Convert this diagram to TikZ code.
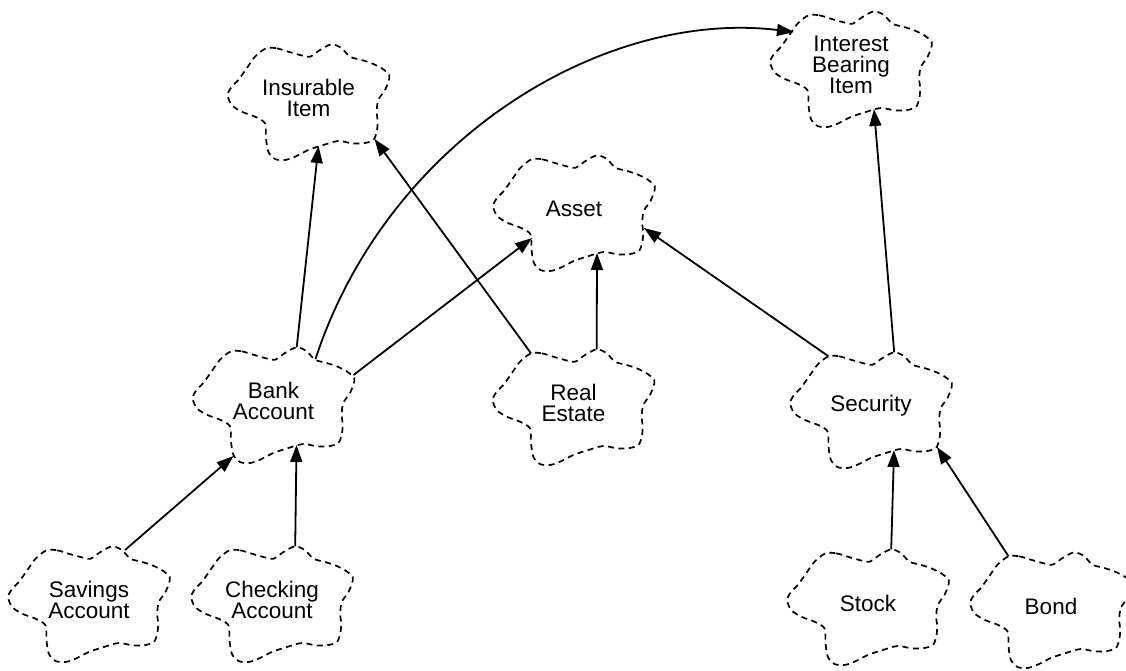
\documentclass[tikz,border=0pt]{standalone}
\usepackage{fontspec}
\setmainfont{Liberation Sans}
\usetikzlibrary{arrows.meta}
\tikzset{
  cloudline/.style={draw=black, line width=1.7pt, dash pattern=on 6pt off 4.5pt},
  cloudtext/.style={font=\fontsize{22.5}{21}\selectfont, align=center, inner sep=0pt},
  inherit/.style={draw=black, line width=1.8pt, -{Triangle[length=17pt,width=12pt]}},
  classcloud/.pic={
    \draw[cloudline] plot[smooth cycle, tension=0.5] coordinates {
      (-42.5,-52.7) (-31.8,-52.7) (-20.2,-49.3) (-8.5,-46) (1.5,-44.3)
      (11.5,-51) (23.2,-56.7) (33.2,-52.7) (41.5,-44.3) (53.2,-41)
      (63.2,-37.7) (73.2,-32.7) (80.8,-26) (79.8,-19.3) (76.5,-11)
      (69.8,-1) (68.2,10.7) (69.2,20.7) (68.2,30.7) (64.8,39)
      (54.8,42.3) (43.2,42.3) (29.8,40) (14.8,44) (-0.2,49)
      (-13.5,55.7) (-23.5,59) (-33.5,58) (-40.2,50.7) (-42.5,37.3)
      (-43.5,22.3) (-53.5,15.7) (-66.8,10.7) (-76.8,4) (-80.8,-6)
      (-76.8,-14.3) (-70.2,-21) (-61.8,-32.7) (-53.5,-44.3)};
    \node[cloudtext] (-c) at (0,-3) {#1};
    \coordinate (-tl) at (-42.5,-52.7);
    \coordinate (-tr) at (23.2,-56.7);
    \coordinate (-trb) at (42,-45);
    \coordinate (-trc) at (36,-53);
    \coordinate (-ru) at (80,-29);
    \coordinate (-lu) at (-57,-36);
    \coordinate (-r) at (70,16);
    \coordinate (-br) at (66,38);
    \coordinate (-b) at (23,41);
    \coordinate (-bb) at (10,45);
    \coordinate (-bl) at (-40,52);
    \coordinate (-lb) at (-42,26);
  }
}
\begin{document}
\begin{tikzpicture}[x=1pt,y=-1pt]
\useasboundingbox[fill=white] (0,0) rectangle (1126,670);
\pic (ins) at (308.5,101) {classcloud={Insurable\\Item}};
\pic (ibi) at (851,68) {classcloud={Interest\\Bearing\\Item}};
\pic (ast) at (574,212) {classcloud={Asset}};
\pic (ba) at (273.5,404) {classcloud={Bank\\Account}};
\pic (re) at (573.5,406) {classcloud={Real\\Estate}};
\pic (sec) at (871,409) {classcloud={Security}};
\pic (sav) at (89,603) {classcloud={Savings\\Account}};
\pic (chk) at (272,603) {classcloud={Checking\\Account}};
\pic (stk) at (868,606) {classcloud={Stock}};
\pic (bnd) at (1051,609) {classcloud={Bond}};

\draw[inherit] (ba-tr) -- (ins-bb);
\draw[inherit] (re-tl) -- (ins-br);
\draw[inherit] (ba-ru) -- (ast-lb);
\draw[inherit] (ba-trb) .. controls +(72,-220) and +(-190,-23) .. (ibi-lu);
\draw[inherit] (re-tr) -- (ast-b);
\draw[inherit] (sec-tl) -- (ast-r);
\draw[inherit] (sec-tr) -- (ibi-b);
\draw[inherit] (sav-trc) -- (ba-bl);
\draw[inherit] (chk-tr) -- (ba-b);
\draw[inherit] (stk-tr) -- (sec-b);
\draw[inherit] (bnd-tl) -- (sec-br);
\end{tikzpicture}
\end{document}
